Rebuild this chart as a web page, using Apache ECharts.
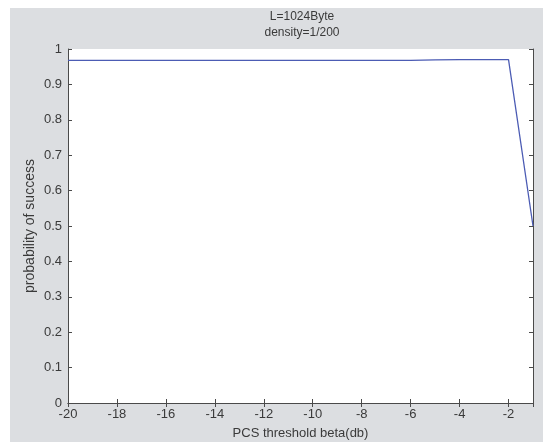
<!DOCTYPE html>
<html><head><meta charset="utf-8">
<script src="https://cdn.jsdelivr.net/npm/echarts@6/dist/echarts.min.js"></script>
<style>html,body{margin:0;padding:0;background:#fff}#c{width:543px;height:445px}</style>
</head><body><div id="c"></div>
<script>
const titleLines = ['L=1024Byte', 'density=1/200'];
const xName = 'PCS threshold beta(db)';
const yName = 'probability of success';
const xValues = [-20,-19,-18,-17,-16,-15,-14,-13,-12,-11,-10,-9,-8,-7,-6,-5,-4,-3,-2,-1];
const yValues = [0.968,0.968,0.968,0.968,0.968,0.968,0.968,0.968,0.968,0.968,0.968,0.968,0.968,0.968,0.968,0.969,0.970,0.970,0.970,0.5];

const chart = echarts.init(document.getElementById('c'));
const font = 'Liberation Sans, Arial, sans-serif';
const txt = '#3a3a3a';
const frame = {show:true, lineStyle:{color:'#4a4a4a', width:1}};
chart.setOption({
  animation:false,
  backgroundColor:'#ffffff',
  graphic:[{type:'rect', z:-10, shape:{x:10,y:8,width:533,height:434}, style:{fill:'#dcdee1'}}],
  title:{text:titleLines.join('\n'), left:297, top:4, textAlign:'center',
    textStyle:{fontFamily:font, fontSize:12, fontWeight:'normal', color:txt, lineHeight:16}},
  grid:{left:68, right:10, top:49, bottom:41, show:true, backgroundColor:'#ffffff', borderWidth:0},
  xAxis:[{type:'value', min:-20, max:-1, interval:2, position:'bottom',
    name:xName, nameLocation:'middle', nameGap:24,
    nameTextStyle:{fontFamily:font, fontSize:13, color:txt},
    axisLine:frame, axisTick:{inside:true, length:4, lineStyle:{color:'#4a4a4a'}},
    axisLabel:{fontFamily:font, fontSize:13, color:txt, margin:5, showMaxLabel:false},
    splitLine:{show:false}},
   {type:'value', min:-20, max:-1, interval:2, position:'top',
    axisLine:frame, axisTick:{inside:true, length:4, lineStyle:{color:'#4a4a4a'}},
    axisLabel:{show:false}, splitLine:{show:false}}],
  yAxis:[{type:'value', min:0, max:1, interval:0.1, position:'left',
    name:yName, nameLocation:'middle', nameGap:31, nameMoveOverlap:false,
    nameTextStyle:{fontFamily:font, fontSize:14, color:txt},
    axisLine:frame, axisTick:{inside:true, length:4, lineStyle:{color:'#4a4a4a'}},
    axisLabel:{fontFamily:font, fontSize:13, color:txt, margin:6,
      formatter:v=>(Math.round(v*10)/10).toString()},
    splitLine:{show:false}},
   {type:'value', min:0, max:1, interval:0.1, position:'right',
    axisLine:frame, axisTick:{inside:true, length:4, lineStyle:{color:'#4a4a4a'}},
    axisLabel:{show:false}, splitLine:{show:false}}],
  series:[{type:'line', data:xValues.map((x,i)=>[x,yValues[i]]), showSymbol:false,
    lineStyle:{color:'#4c5cb4', width:1.3}, xAxisIndex:0, yAxisIndex:0}]
});
</script></body></html>
